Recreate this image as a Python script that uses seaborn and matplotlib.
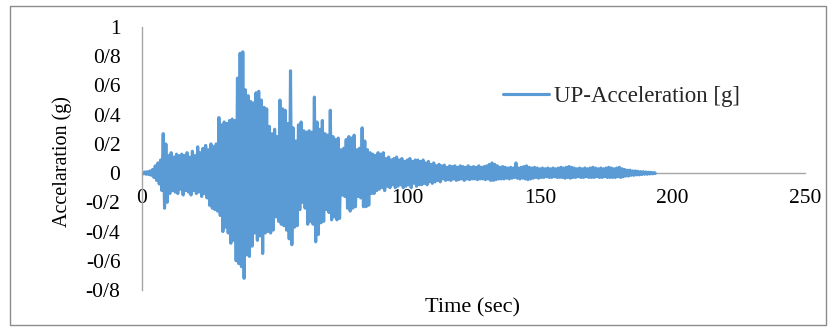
import matplotlib
matplotlib.use("Agg")
import matplotlib.pyplot as plt
from matplotlib.patches import Rectangle
from matplotlib.ticker import FuncFormatter
import numpy as np
import pandas as pd
import seaborn as sns

# Vertical ground acceleration record: positive and negative peak per second (g)
peak_times = list(range(0, 194))
upper_peaks = [
    0.005, 0.008, 0.01, 0.015, 0.025, 0.05, 0.07, 0.09, 0.27, 0.2,
    0.12, 0.14, 0.11, 0.13, 0.12, 0.13, 0.12, 0.14, 0.11, 0.15,
    0.12, 0.18, 0.14, 0.17, 0.19, 0.16, 0.2, 0.18, 0.2, 0.38,
    0.33, 0.35, 0.34, 0.36, 0.37, 0.36, 0.65, 0.82, 0.83, 0.57,
    0.53, 0.49, 0.48, 0.55, 0.56, 0.5, 0.45, 0.44, 0.32, 0.27,
    0.3, 0.25, 0.5, 0.44, 0.43, 0.34, 0.7, 0.31, 0.22, 0.33,
    0.35, 0.29, 0.28, 0.29, 0.28, 0.52, 0.35, 0.3, 0.36, 0.27,
    0.26, 0.43, 0.25, 0.23, 0.24, 0.16, 0.17, 0.23, 0.25, 0.24,
    0.26, 0.16, 0.17, 0.31, 0.22, 0.16, 0.14, 0.13, 0.12, 0.14,
    0.13, 0.14, 0.1, 0.11, 0.09, 0.1, 0.11, 0.09, 0.1, 0.08,
    0.09, 0.1, 0.08, 0.09, 0.09, 0.08, 0.09, 0.07, 0.08, 0.06,
    0.07, 0.05, 0.06, 0.05, 0.055, 0.04, 0.05, 0.045, 0.05, 0.04,
    0.05, 0.045, 0.04, 0.05, 0.04, 0.045, 0.04, 0.05, 0.04, 0.045,
    0.05, 0.06, 0.07, 0.06, 0.05, 0.04, 0.045, 0.04, 0.035, 0.04,
    0.035, 0.07, 0.035, 0.04, 0.045, 0.05, 0.04, 0.035, 0.04, 0.035,
    0.03, 0.035, 0.03, 0.035, 0.03, 0.035, 0.03, 0.035, 0.04, 0.035,
    0.04, 0.045, 0.04, 0.035, 0.03, 0.035, 0.03, 0.035, 0.03, 0.035,
    0.04, 0.035, 0.03, 0.035, 0.03, 0.035, 0.04, 0.035, 0.03, 0.035,
    0.04, 0.03, 0.025, 0.02, 0.02, 0.015, 0.015, 0.012, 0.01, 0.01,
    0.008, 0.006, 0.005, 0.003,
]
lower_peaks = [
    -0.005, -0.008, -0.01, -0.015, -0.03, -0.05, -0.075, -0.12, -0.24, -0.2,
    -0.14, -0.12, -0.13, -0.14, -0.11, -0.15, -0.12, -0.13, -0.15, -0.12,
    -0.14, -0.13, -0.16, -0.14, -0.17, -0.22, -0.24, -0.25, -0.26, -0.29,
    -0.4, -0.37, -0.41, -0.48, -0.46, -0.6, -0.62, -0.64, -0.72, -0.56,
    -0.57, -0.5, -0.41, -0.46, -0.43, -0.55, -0.41, -0.4, -0.41, -0.39,
    -0.3, -0.33, -0.35, -0.36, -0.39, -0.45, -0.49, -0.37, -0.36, -0.25,
    -0.2, -0.24, -0.35, -0.33, -0.35, -0.47, -0.42, -0.34, -0.33, -0.25,
    -0.27, -0.32, -0.3, -0.32, -0.31, -0.15, -0.16, -0.24, -0.26, -0.24,
    -0.23, -0.16, -0.17, -0.23, -0.23, -0.22, -0.14, -0.14, -0.12, -0.11,
    -0.1, -0.12, -0.09, -0.1, -0.08, -0.1, -0.09, -0.08, -0.1, -0.09,
    -0.08, -0.1, -0.07, -0.09, -0.08, -0.08, -0.07, -0.08, -0.06, -0.07,
    -0.06, -0.05, -0.06, -0.04, -0.05, -0.045, -0.05, -0.04, -0.05, -0.045,
    -0.04, -0.05, -0.04, -0.045, -0.04, -0.04, -0.045, -0.04, -0.04, -0.045,
    -0.04, -0.05, -0.05, -0.045, -0.04, -0.04, -0.04, -0.035, -0.04, -0.035,
    -0.03, -0.035, -0.04, -0.035, -0.04, -0.045, -0.04, -0.035, -0.03, -0.035,
    -0.03, -0.03, -0.025, -0.03, -0.03, -0.025, -0.03, -0.03, -0.03, -0.035,
    -0.03, -0.035, -0.03, -0.03, -0.025, -0.03, -0.03, -0.025, -0.03, -0.03,
    -0.03, -0.025, -0.03, -0.03, -0.025, -0.03, -0.03, -0.03, -0.03, -0.025,
    -0.03, -0.025, -0.02, -0.02, -0.015, -0.015, -0.012, -0.012, -0.01, -0.008,
    -0.008, -0.006, -0.005, -0.003,
]
x_ticks = [0, 50, 100, 150, 200, 250]
y_ticks = [-0.8, -0.6, -0.4, -0.2, 0, 0.2, 0.4, 0.6, 0.8, 1]
series_name = "UP-Acceleration [g]"

# Alternate positive and negative peaks along the time axis
times, accel = [], []
for t, up, lo in zip(peak_times, upper_peaks, lower_peaks):
    times += [t, t + 0.5]
    accel += [up, lo]
times.append(193.5)
accel.append(0.0)
record = pd.DataFrame({"Time (sec)": times, "Accel": accel, "series": series_name})

sns.set_theme(style="white")
plt.rcParams["font.family"] = ["Liberation Serif", "DejaVu Serif"]

FS = 15.5

fig = plt.figure(figsize=(8.34, 3.27), dpi=100)
ax = fig.add_axes([142 / 834, 1 - 290 / 327, 663 / 834, 263 / 327])

sns.lineplot(data=record, x="Time (sec)", y="Accel", hue="series",
             palette=["#5B9BD5"], estimator=None, sort=False,
             linewidth=2.25, ax=ax)

ax.set_xlim(0, 250)
ax.set_ylim(-0.8, 1.0)
ax.set_xticks(x_ticks)
ax.set_yticks(y_ticks)


def slash_decimal(v, _pos):
    if abs(v - round(v)) < 1e-9:
        return f"{int(round(v))}"
    return f"{v:.1f}".replace(".", "/")


ax.yaxis.set_major_formatter(FuncFormatter(slash_decimal))
ax.xaxis.set_major_formatter(FuncFormatter(lambda v, p: f"{int(v)}"))

for side in ("top", "right"):
    ax.spines[side].set_visible(False)
ax.spines["bottom"].set_position(("data", 0))
for side in ("left", "bottom"):
    ax.spines[side].set_color("#A6A6A6")
    ax.spines[side].set_linewidth(1.0)
ax.spines["bottom"].set_zorder(0)

ax.tick_params(axis="y", length=0, pad=15.5, labelsize=FS, colors="black")
ax.tick_params(axis="x", length=0, pad=11.5, labelsize=FS, colors="black")

ax.set_xlabel("Time (sec)", fontsize=16, color="black")
ax.set_ylabel("Accelaration (g)", fontsize=14.5, color="black")
ax.xaxis.set_label_coords(0.499, -0.032)
ax.yaxis.set_label_coords(-0.106, 0.49)

leg = ax.legend(loc="center left", bbox_to_anchor=(503 / 834, 1 - 96 / 327),
                bbox_transform=fig.transFigure, frameon=False, fontsize=16.5,
                handlelength=2.0, handletextpad=0.22, borderpad=0,
                borderaxespad=0)
for line in leg.get_lines():
    line.set_linewidth(2.25)

fig.patches.append(Rectangle((10 / 834, 1 - 325 / 327), 816 / 834, 319 / 327,
                             transform=fig.transFigure, fill=False,
                             edgecolor="#8C8C8C", linewidth=1.0))

fig.savefig("out.png", dpi=100)
